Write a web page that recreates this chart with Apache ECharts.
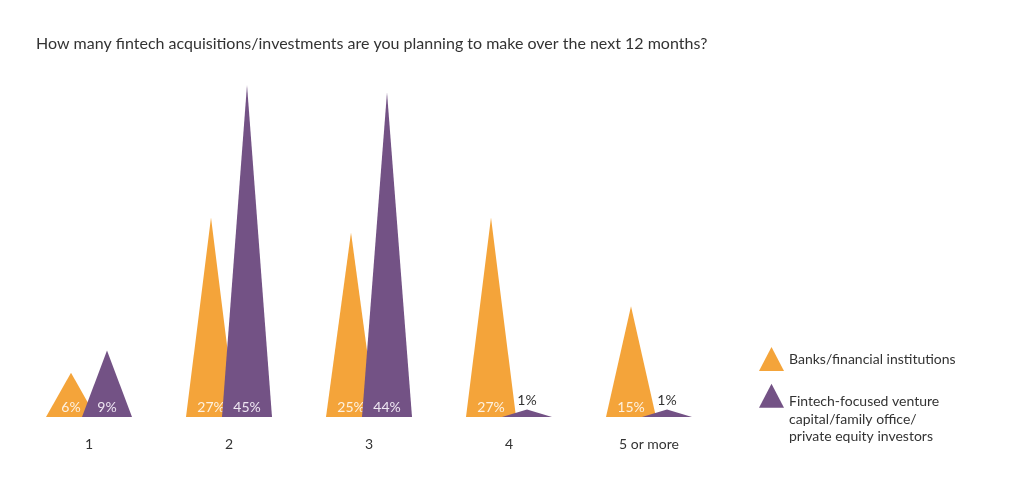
<!DOCTYPE html>
<html>
<head>
<meta charset="utf-8">
<script src="https://cdn.jsdelivr.net/npm/echarts@6/dist/echarts.min.js"></script>
<style>html,body{margin:0;padding:0;background:#fff}#c{width:1024px;height:480px}</style>
</head>
<body>
<div id="c"></div>
<script>
const titleText = 'How many fintech acquisitions/investments are you planning to make over the next 12 months?';
const categories = ['1', '2', '3', '4', '5 or more'];
const seriesNames = ['Banks/financial institutions', 'Fintech-focused venture\ncapital/family office/\nprivate equity investors'];
const banks = [6, 27, 25, 27, 15];
const fintechVC = [9, 45, 44, 1, 1];

const ORANGE = '#F4A43A';
const PURPLE = '#735285';
const FONT = 'Lato';

function mkData(vals, light) {
  return vals.map(v => {
    const small = v < 3;
    return {
      value: v,
      label: small ? {position: 'top', distance: 2, color: '#333'} : {position: 'insideBottom', distance: 3, color: light}
    };
  });
}

const chart = echarts.init(document.getElementById('c'));
chart.setOption({
  animation: false,
  backgroundColor: '#fff',
  title: {
    text: titleText, left: 31, top: 31,
    textStyle: {fontFamily: FONT, fontSize: 16, fontWeight: 'normal', color: '#333'}
  },
  grid: {left: 19, width: 700, top: 48, bottom: 63},
  xAxis: {
    type: 'category', data: categories,
    axisLine: {show: false}, axisTick: {show: false},
    axisLabel: {margin: 20, fontFamily: FONT, fontSize: 14, color: '#333'}
  },
  yAxis: {type: 'value', min: 0, max: 50, show: false, splitLine: {show: false}},
  legend: [{
    data: [{name: seriesNames[0], icon: 'triangle'}],
    orient: 'vertical', left: 754, top: 342,
    itemWidth: 25, itemHeight: 24,
    textStyle: {fontFamily: FONT, fontSize: 14, color: '#333', lineHeight: 17.5}
  }, {
    data: [{name: seriesNames[1], icon: 'triangle'}],
    orient: 'vertical', left: 754, top: 341,
    itemWidth: 25, itemHeight: 24,
    formatter: name => '{pad| }\n' + name.split('\n').map(s => '{t|' + s + '}').join('\n'),
    textStyle: {
      fontFamily: FONT, fontSize: 14, color: '#333', lineHeight: 17.5,
      rich: {
        pad: {fontSize: 1, lineHeight: 47},
        t: {fontFamily: FONT, fontSize: 14, color: '#333', lineHeight: 17.5}
      }
    }
  }],
  series: [{
    name: seriesNames[0], type: 'pictorialBar', symbol: 'triangle',
    barWidth: 50, barGap: '-28%', symbolSize: ['100%', '100%'],
    itemStyle: {color: ORANGE},
    label: {show: true, formatter: '{c}%', fontFamily: FONT, fontSize: 14},
    data: mkData(banks, '#FDF1E0'),
    z: 2
  }, {
    name: seriesNames[1], type: 'pictorialBar', symbol: 'triangle',
    barWidth: 50, barGap: '-28%', symbolSize: ['100%', '100%'],
    itemStyle: {color: PURPLE},
    label: {show: true, formatter: '{c}%', fontFamily: FONT, fontSize: 14},
    data: mkData(fintechVC, '#EEE6F2'),
    z: 3
  }]
});
</script>
</body>
</html>
